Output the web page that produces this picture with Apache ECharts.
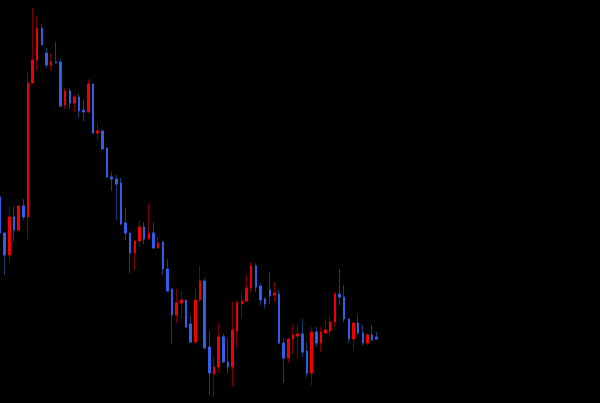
<!DOCTYPE html>
<html>
<head>
<meta charset="utf-8">
<script src="https://cdn.jsdelivr.net/npm/echarts@6/dist/echarts.min.js"></script>
<style>
html,body{margin:0;padding:0;background:#000;}
#chart{width:600px;height:403px;}
</style>
</head>
<body>
<div id="chart"></div>
<script>
// OHLC values per candle
const opens  = [206,170,148,186,173,197,186,320,343,375,350,338,341,341,298,312,300,306,293,291,319,270,272,255,226,224,220,180,170,150,162,176,164,170,155,161,134,114,88,100,103,79,61,103,122,56,29,36,66,41,36,72,99,102,115,137,117,104,113,108,109,60,45,64,67,69,52,30,71,60,70,72,81,109,106,84,64,80,70,60,68,66];
const closes = [170,148,186,173,197,186,320,343,375,358,338,341,340,297,312,300,306,292,291,319,270,272,254,226,224,219,179,170,150,162,176,164,170,155,160,134,112,88,100,103,76,61,103,122,55,30,36,66,41,36,73,100,102,115,137,116,103,99,107,110,60,45,64,68,69,51,30,71,60,71,73,81,109,106,84,64,80,70,60,68,63,64];
const lows   = [170,128,140,162,173,183,164,320,333,358,335,332,340,296,294,294,291,285,282,291,269,262,253,225,212,183,178,163,130,133,156,159,164,155,155,128,111,59,80,84,75,60,61,101,54,8,6,30,40,30,17,56,85,101,110,111,98,95,99,101,59,20,40,49,44,46,26,18,56,51,70,66,76,98,81,60,52,68,58,57,62,64];
const highs  = [206,170,196,196,197,204,331,395,387,379,355,349,361,344,315,315,308,309,303,324,319,280,273,255,231,228,225,195,170,162,183,181,200,181,166,161,144,114,114,112,103,87,114,137,125,72,46,80,69,64,101,103,111,128,141,140,120,106,131,121,113,65,64,78,79,84,61,76,76,76,84,88,111,134,118,84,80,88,78,70,78,71];
const categoryCount = 130;
const categories = Array.from({length: categoryCount}, (_, i) => String(i + 1));

const fullData = opens.map((o, i) => [o, closes[i], lows[i], highs[i]]);
const bodyData = opens.map((o, i) => [o, closes[i], Math.min(o, closes[i]), Math.max(o, closes[i])]);

const chart = echarts.init(document.getElementById('chart'));
chart.setOption({
  backgroundColor: '#000000',
  animation: false,
  grid: {left: 0, right: 0, top: 0, bottom: 0},
  xAxis: {
    type: 'category', data: categories, boundaryGap: false,
    show: false
  },
  yAxis: {
    type: 'value', min: 0, max: 403, show: false, splitLine: {show: false}
  },
  series: [
    {
      type: 'candlestick',
      data: fullData,
      barWidth: 2,
      itemStyle: {
        color: '#7a0000', color0: '#173f6e',
        borderColor: '#7a0000', borderColor0: '#173f6e', borderWidth: 1
      }
    },
    {
      type: 'candlestick',
      data: bodyData,
      barWidth: 2,
      itemStyle: {
        color: '#f00000', color0: '#2f5fe6',
        borderColor: '#f00000', borderColor0: '#2f5fe6', borderWidth: 1
      }
    }
  ]
});
</script>
</body>
</html>
